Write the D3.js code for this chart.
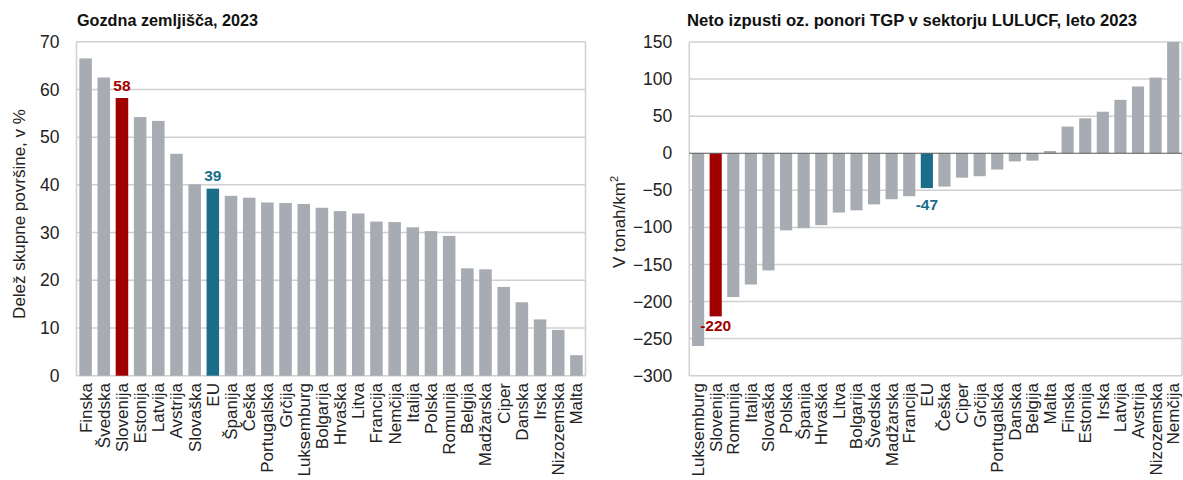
<!DOCTYPE html>
<html>
<head>
<meta charset="utf-8">
<script src="https://cdn.jsdelivr.net/npm/d3@7"></script>
<style>
  html, body { margin: 0; padding: 0; background: #fff; }
  svg { display: block; font-family: "Liberation Sans", Arial, sans-serif; }
</style>
</head>
<body>
<svg id="chart" width="1183" height="480"></svg>
<script>
// ---------- Data: left chart (forest land share, %) ----------
const forestCountries = ["Finska","Švedska","Slovenija","Estonija","Latvija","Avstrija","Slovaška","EU","Španija","Češka","Portugalska","Grčija","Luksemburg","Bolgarija","Hrvaška","Litva","Francija","Nemčija","Italija","Polska","Romunija","Belgija","Madžarska","Ciper","Danska","Irska","Nizozemska","Malta"];
const forestValues = [66.5,62.5,58.2,54.2,53.4,46.5,40.1,39.2,37.7,37.3,36.3,36.2,36.0,35.2,34.5,34.0,32.3,32.2,31.1,30.3,29.3,22.5,22.3,18.6,15.4,11.8,9.6,4.3];
const forestTicks = [0,10,20,30,40,50,60,70];
const forestLabels = [{name:"Slovenija", text:"58"}, {name:"EU", text:"39"}];

// ---------- Data: right chart (LULUCF net emissions, t/km2) ----------
const lulucfCountries = ["Luksemburg","Slovenija","Romunija","Italija","Slovaška","Polska","Španija","Hrvaška","Litva","Bolgarija","Švedska","Madžarska","Francija","EU","Češka","Ciper","Grčija","Portugalska","Danska","Belgija","Malta","Finska","Estonija","Irska","Latvija","Avstrija","Nizozemska","Nemčija"];
const lulucfValues = [-260,-220,-194,-177,-158,-104,-101,-97,-80,-77,-69,-62,-58,-47,-45,-33,-31,-22,-11,-10,3,36,47,56,72,90,102,150];
const lulucfTicks = [-300,-250,-200,-150,-100,-50,0,50,100,150];
const lulucfLabels = [{name:"Slovenija", text:"-220"}, {name:"EU", text:"-47"}];

// ---------- Styles ----------
const GREY = "#a6acb2", RED = "#a00000", TEAL = "#1a6e8a";
const GRID = "#d0d0d0", AXIS_DARK = "#5a5a5a";
const colorFor = n => n === "Slovenija" ? RED : (n === "EU" ? TEAL : GREY);

const svg = d3.select("#chart");

function drawChart(cfg) {
  const g = svg.append("g");
  const x = d3.scaleBand().domain(cfg.cats).range([cfg.x0, cfg.x1]).paddingInner(0.31).paddingOuter(0.155);
  const y = d3.scaleLinear().domain(cfg.domain).range([cfg.y1, cfg.y0]);

  // gridlines
  g.append("g").selectAll("line").data(cfg.ticks).join("line")
    .attr("x1", cfg.x0).attr("x2", cfg.x1)
    .attr("y1", d => y(d)).attr("y2", d => y(d))
    .attr("stroke", d => (d === 0 && cfg.darkZero) ? "none" : GRID)
    .attr("stroke-width", 1.5);

  // frame: left and right
  g.append("line").attr("x1", cfg.x0).attr("x2", cfg.x0).attr("y1", cfg.y0).attr("y2", cfg.y1)
    .attr("stroke", GRID).attr("stroke-width", 1.5);
  g.append("line").attr("x1", cfg.x1).attr("x2", cfg.x1).attr("y1", cfg.y0).attr("y2", cfg.y1)
    .attr("stroke", GRID).attr("stroke-width", 1.5);

  // bars
  g.append("g").selectAll("rect").data(cfg.cats).join("rect")
    .attr("x", d => x(d))
    .attr("width", x.bandwidth())
    .attr("y", (d, i) => y(Math.max(0, cfg.vals[i])))
    .attr("height", (d, i) => Math.abs(y(cfg.vals[i]) - y(0)))
    .attr("fill", d => colorFor(d));

  if (cfg.darkZero) {
    g.append("line").attr("x1", cfg.x0).attr("x2", cfg.x1).attr("y1", y(0)).attr("y2", y(0))
      .attr("stroke", AXIS_DARK).attr("stroke-width", 1.2);
  }

  // y-axis tick labels
  const yAxis = d3.axisLeft(y).tickValues(cfg.ticks).tickSize(0).tickPadding(17).tickFormat(d3.format("d"));
  const ya = g.append("g").attr("transform", `translate(${cfg.x0},0)`).call(yAxis);
  ya.select(".domain").remove();
  ya.selectAll("text").attr("font-size", 17.5).attr("fill", "#222").attr("font-family", "Liberation Sans, Arial, sans-serif");

  // x category labels (rotated)
  g.append("g").selectAll("text").data(cfg.cats).join("text")
    .attr("transform", d => `translate(${x(d) + x.bandwidth()/2},${cfg.labelY}) rotate(-90)`)
    .attr("text-anchor", "end").attr("dy", "0.35em")
    .attr("font-size", 17).attr("fill", "#222")
    .text(d => d);

  // value labels
  cfg.labels.forEach(l => {
    const i = cfg.cats.indexOf(l.name);
    const v = cfg.vals[i];
    g.append("text")
      .attr("x", x(l.name) + x.bandwidth()/2)
      .attr("y", v >= 0 ? y(v) - cfg.labelOffUp : y(v) + (l.name === "EU" ? cfg.labelOffDownEU : cfg.labelOffDown))
      .attr("text-anchor", "middle")
      .attr("font-size", 15.5).attr("font-weight", "bold")
      .attr("fill", colorFor(l.name))
      .text(l.text);
  });

  // title
  g.append("text").attr("x", cfg.titleX).attr("y", 26)
    .attr("font-size", 16).attr("font-weight", "bold").attr("fill", "#111")
    .attr("textLength", cfg.titleW).attr("lengthAdjust", "spacingAndGlyphs")
    .text(cfg.title);

  // y-axis title
  g.append("text")
    .attr("transform", `translate(${cfg.yTitleX},${cfg.yTitleY}) rotate(-90)`)
    .attr("text-anchor", "middle")
    .attr("font-size", 17).attr("fill", "#222")
    .html(cfg.yTitle);
}

drawChart({
  cats: forestCountries, vals: forestValues, ticks: forestTicks, domain: [0, 70],
  x0: 76.5, x1: 585.5, y0: 41.7, y1: 375.7, labelY: 383,
  labels: forestLabels, labelOffUp: 7.5,
  title: "Gozdna zemljišča, 2023", titleX: 77, titleW: 181,
  yTitle: "Delež skupne površine, v %", yTitleX: 25, yTitleY: 214,
  darkZero: false
});

drawChart({
  cats: lulucfCountries, vals: lulucfValues, ticks: lulucfTicks, domain: [-300, 150],
  x0: 689.3, x1: 1182, y0: 42, y1: 375.7, labelY: 383,
  labels: lulucfLabels, labelOffUp: 7, labelOffDown: 15, labelOffDownEU: 21.5,
  title: "Neto izpusti oz. ponori TGP v sektorju LULUCF, leto 2023", titleX: 687, titleW: 450,
  yTitle: "V tonah/km<tspan dy='-7' font-size='11'>2</tspan>", yTitleX: 625, yTitleY: 222,
  darkZero: true
});
</script>
</body>
</html>
